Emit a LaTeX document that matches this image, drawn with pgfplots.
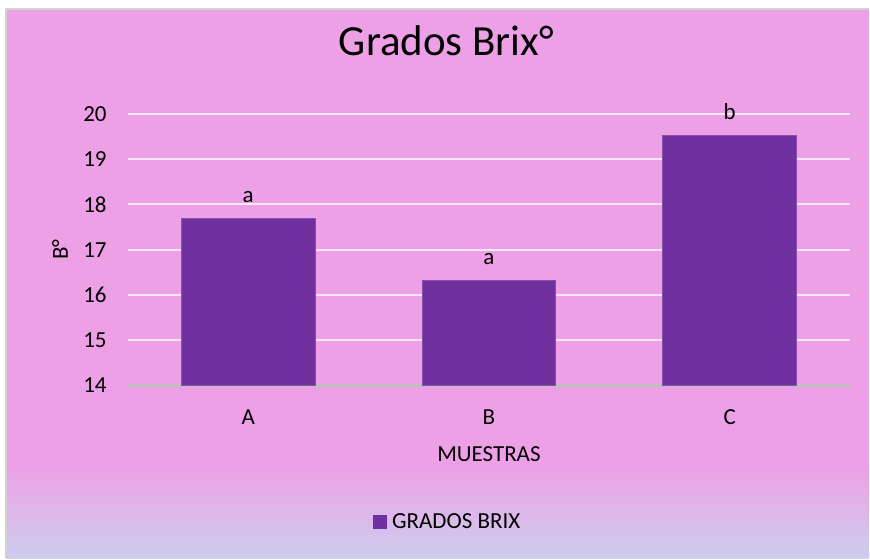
\documentclass[border=0pt]{standalone}
\usepackage{pgfplots}
\pgfplotsset{compat=1.18}
\usepackage{fontspec}
\setmainfont{Carlito}

\definecolor{bgpink}{RGB}{237,160,230}
\definecolor{bglav}{RGB}{205,205,237}
\definecolor{barpurple}{RGB}{112,48,160}
\definecolor{gridwhite}{RGB}{246,232,244}

\begin{document}
\begin{tikzpicture}[x=0.4pt,y=0.4pt]
% page and chart area (pixel units from the plot corner at 128,386)
\fill[white] (-128,386) rectangle (742,-173);
\fill[bgpink] (-122,377) rectangle (742,-79);
\shade[top color=bgpink, bottom color=bglav] (-122,-79.5) rectangle (742,-173);
\draw[gray!35, line width=0.8pt] (-122,-173) -- (-122,377) -- (742,377);

\begin{axis}[
  at={(0,0)}, anchor=south west,
  scale only axis,
  width=289.2pt, height=108.8pt,
  xmin=-0.5, xmax=2.5,
  ymin=14, ymax=20,
  ytick={14,15,16,17,18,19,20},
  xtick={0,1,2},
  xticklabels={A,B,C},
  major tick length=0pt,
  ymajorgrids,
  major grid style={gridwhite, line width=0.8pt},
  axis x line*=bottom,
  axis y line*=left,
  y axis line style={draw=none},
  x axis line style={draw=black!25, line width=0.9pt},
  ticklabel style={font=\fontsize{9.2}{11}\selectfont},
  /pgf/number format/assume math mode=true,
  yticklabel style={xshift=-5pt},
  xticklabel style={yshift=-6pt},
  title={Grados Brix°},
  title style={at={(rel axis cs:0.441,1.262)}, anchor=center, yshift=-5.2pt, font=\fontsize{17.2}{20}\selectfont},
  xlabel={MUESTRAS},
  xlabel style={at={(rel axis cs:0.5,-0.254)}, anchor=center, font=\fontsize{9.2}{11}\selectfont},
  ylabel={B°},
  ylabel style={at={(rel axis cs:-0.094,0.5)}, anchor=center, font=\fontsize{9.2}{11}\selectfont},
  legend style={at={(rel axis cs:0.445,-0.504)}, anchor=center, draw=none, fill=none,
    font=\fontsize{9.2}{11}\selectfont, inner sep=0pt},
  ybar, bar width=53.6pt,
  legend image code/.code={\fill[barpurple] (0pt,-2.6pt) rectangle (5.2pt,2.6pt);},
  nodes near coords,
  point meta=explicit symbolic,
  nodes near coords style={font=\fontsize{9.2}{11}\selectfont, yshift=3pt},
]
\addplot[fill=barpurple, draw=barpurple!85!white] coordinates {
  (0,17.68) [a]
  (1,16.32) [a]
  (2,19.52) [b]
};
\addlegendentry{GRADOS BRIX}
\end{axis}
\end{tikzpicture}
\end{document}
